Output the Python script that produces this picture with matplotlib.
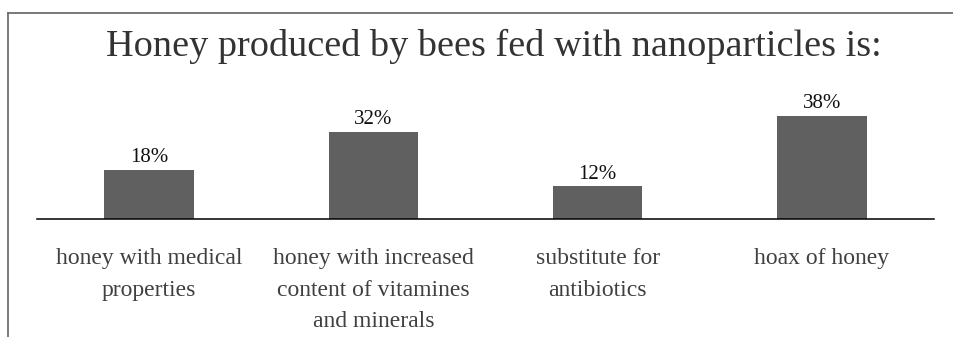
import matplotlib
matplotlib.use("Agg")
import matplotlib.pyplot as plt
from matplotlib.lines import Line2D

categories = [
    "honey with medical\nproperties",
    "honey with increased\ncontent of vitamines\nand minerals",
    "substitute for\nantibiotics",
    "hoax of honey",
]
shares = [18, 32, 12, 38]
value_labels = ["18%", "32%", "12%", "38%"]
title = "Honey produced by bees fed with nanoparticles is:"

plt.rcParams["font.family"] = ["Liberation Serif", "DejaVu Serif"]

W, H = 954, 337
fig = plt.figure(figsize=(W / 100, H / 100), dpi=100)

# axes placed so the baseline sits at y=219 px and 1% = 2.72 px
y_base = 219
ymax = 40
ax_left, ax_right = 37, 934
ax_top = y_base - ymax * 2.72
ax = fig.add_axes([ax_left / W, (H - y_base) / H,
                   (ax_right - ax_left) / W, (y_base - ax_top) / H])

x = list(range(len(categories)))
bars = ax.bar(x, shares, width=0.4, color="#606060", zorder=2)
ax.set_xlim(-0.5, len(categories) - 0.5)
ax.set_ylim(0, ymax)

for rect, lab in zip(bars, value_labels):
    ax.annotate(lab, (rect.get_x() + rect.get_width() / 2, rect.get_height()),
                xytext=(0, 2), textcoords="offset points",
                ha="center", va="bottom", fontsize=15, color="#111111")

for s in ["top", "right", "left"]:
    ax.spines[s].set_visible(False)
ax.spines["bottom"].set_color("black")
ax.spines["bottom"].set_linewidth(1.1)
ax.set_yticks([])
ax.set_xticks(x)
ax.set_xticklabels(categories, fontsize=17, color="#404040", linespacing=1.66,
                   va="top")
ax.tick_params(axis="x", length=0, pad=21)

fig.text(494 / W, 1 - 46 / H, title, ha="center", va="center",
         fontsize=27.5, color="#333333")

# frame lines along the top and left edges
fig.add_artist(Line2D([8 / W, 1.0], [1 - 13 / H, 1 - 13 / H],
                      transform=fig.transFigure, color="#6e6e6e", lw=1.3))
fig.add_artist(Line2D([8 / W, 8 / W], [1 - 13 / H, 0.0],
                      transform=fig.transFigure, color="#6e6e6e", lw=1.3))

fig.savefig("out.png", dpi=100, facecolor="white")
